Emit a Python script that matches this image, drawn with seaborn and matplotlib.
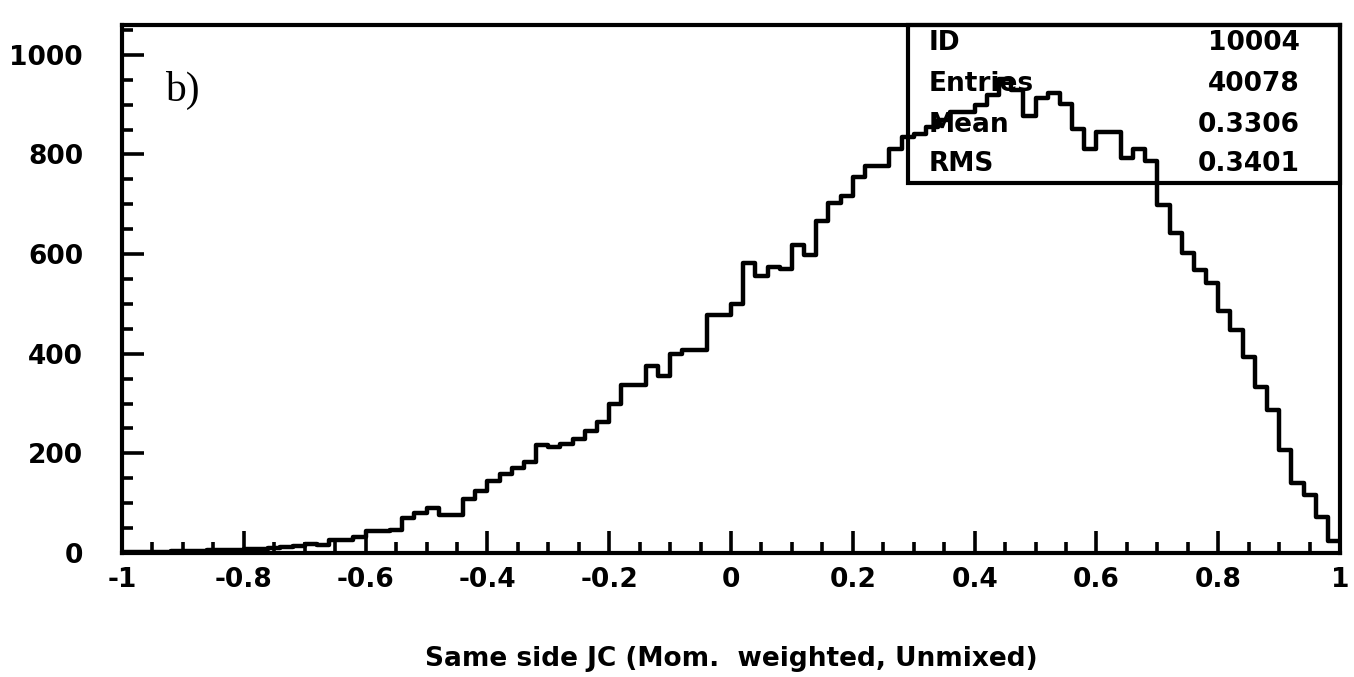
import numpy as np
import pandas as pd
import matplotlib
matplotlib.use("Agg")
import matplotlib.pyplot as plt
import seaborn as sns
from matplotlib.ticker import MultipleLocator, FixedLocator
from matplotlib.patches import Rectangle

# Histogram definition: 100 equal bins on [-1, 1]
x_min, x_max, n_bins = -1.0, 1.0, 100

# Bin contents, left to right
counts = [
    1, 1, 2, 2, 3, 3, 4, 5, 5, 6,
    7, 8, 9, 11, 15, 18, 17, 27, 27, 33,
    45, 45, 47, 70, 80, 90, 77, 77, 109, 124,
    144, 159, 171, 182, 216, 212, 219, 228, 245, 263,
    299, 337, 337, 375, 356, 400, 408, 408, 478, 478,
    500, 583, 556, 575, 571, 619, 598, 666, 703, 717,
    755, 776, 776, 811, 835, 841, 855, 870, 885, 885,
    900, 919, 951, 930, 877, 913, 923, 902, 852, 812,
    846, 846, 793, 812, 787, 699, 642, 602, 569, 542,
    485, 448, 394, 334, 287, 207, 140, 116, 72, 25,
]

# Statistics box
stat_labels = ["ID", "Entries", "Mean", "RMS"]
stat_values = ["10004", "40078", "0.3306", "0.3401"]

# Axis ticks
x_ticks = [-1, -0.8, -0.6, -0.4, -0.2, 0, 0.2, 0.4, 0.6, 0.8, 1]
x_tick_labels = ["-1", "-0.8", "-0.6", "-0.4", "-0.2", "0", "0.2", "0.4", "0.6", "0.8", "1"]
y_ticks = [0, 200, 400, 600, 800, 1000]
y_tick_labels = ["0", "200", "400", "600", "800", "1000"]

x_title = "Same side JC (Mom.  weighted, Unmixed)"
panel_tag = "b)"

sns.set_style("white")
plt.rcParams["font.family"] = ["DejaVu Sans"]
plt.rcParams["font.weight"] = "bold"
for key in ["text.color", "axes.labelcolor", "xtick.color", "ytick.color"]:
    plt.rcParams[key] = "black"

edges = np.linspace(x_min, x_max, n_bins + 1)
centers = 0.5 * (edges[:-1] + edges[1:])
df = pd.DataFrame({"jc": centers, "entries": counts})

fig = plt.figure(figsize=(13.54, 6.77), dpi=100)
ax = fig.add_axes([0.0901, 0.1832, 0.8996, 0.7799])

sns.histplot(data=df, x="jc", weights="entries", bins=n_bins,
             binrange=(x_min, x_max), element="step", fill=False,
             color="black", linewidth=3.2, ax=ax)

ax.set_xlim(x_min, x_max)
ax.set_ylim(0, 1060)

for side in ["left", "right", "top", "bottom"]:
    ax.spines[side].set_visible(True)
    ax.spines[side].set_linewidth(3.0)
    ax.spines[side].set_color("black")

ax.xaxis.set_major_locator(FixedLocator(x_ticks))
ax.xaxis.set_minor_locator(MultipleLocator(0.05))
ax.yaxis.set_major_locator(FixedLocator(y_ticks))
ax.yaxis.set_minor_locator(MultipleLocator(50))
ax.set_xticklabels(x_tick_labels, fontweight="bold")
ax.set_yticklabels(y_tick_labels, fontweight="bold")

ax.tick_params(axis="both", which="both", direction="in",
               top=False, right=False, bottom=True, left=True,
               width=2.6, color="black")
ax.tick_params(axis="both", which="major", length=16)
ax.tick_params(axis="both", which="minor", length=8)
ax.tick_params(axis="x", which="major", pad=10, labelsize=19)
ax.tick_params(axis="y", which="major", pad=28, labelsize=19)

ax.set_xlabel(x_title, fontsize=19, fontweight="bold", labelpad=38)
ax.set_ylabel("")

ax.text(0.035, 0.875, panel_tag, transform=ax.transAxes,
        family="Liberation Serif", fontweight="normal", fontsize=30,
        ha="left", va="center")

# Statistics box in the upper right corner
box_left, box_bottom = 0.645, 0.70
ax.add_patch(Rectangle((box_left, box_bottom), 1 - box_left, 1 - box_bottom,
                       transform=ax.transAxes, fill=False,
                       edgecolor="black", linewidth=3.0, clip_on=False))
row_y = [0.966, 0.888, 0.810, 0.736]
for lab, val, yy in zip(stat_labels, stat_values, row_y):
    ax.text(0.662, yy, lab, transform=ax.transAxes, fontsize=19,
            fontweight="bold", ha="left", va="center")
    ax.text(0.967, yy, val, transform=ax.transAxes, fontsize=19,
            fontweight="bold", ha="right", va="center")

fig.savefig("out.png", dpi=100, facecolor="white")
